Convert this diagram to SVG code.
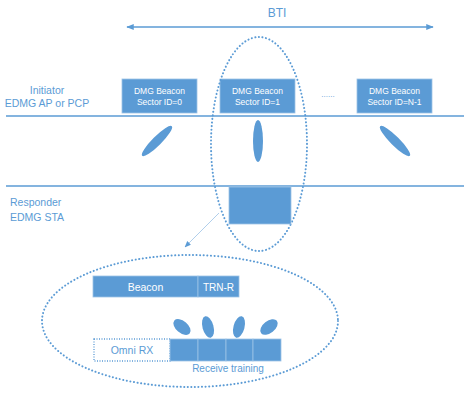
<svg xmlns="http://www.w3.org/2000/svg" width="464" height="393" viewBox="0 0 464 393">
<defs>
<style>
.t{font-family:"Liberation Sans",Arial,sans-serif;fill:#5b9bd5}
.w{font-family:"Liberation Sans",Arial,sans-serif;fill:#ffffff}
.box{fill:#5b9bd5;stroke:#9dc3e6;stroke-width:0.8}
.lobe{fill:#5b9bd5}
.dot{fill:none;stroke:#5b9bd5;stroke-width:2;stroke-dasharray:0.1 3.5;stroke-linecap:round}
.ln{stroke:#5b9bd5;stroke-width:1.5;fill:none}
</style>
<marker id="ah" viewBox="0 0 10 10" refX="9" refY="5" markerWidth="5" markerHeight="5" orient="auto-start-reverse">
<path d="M0,1 L10,5 L0,9 Z" fill="#5b9bd5"/>
</marker>
<marker id="ah2" viewBox="0 0 10 10" refX="9" refY="5" markerWidth="8" markerHeight="8" orient="auto">
<path d="M0,1 L10,5 L0,9 Z" fill="#5b9bd5"/>
</marker>
</defs>
<rect width="464" height="393" fill="#ffffff"/>

<g id="bti">
<text class="t" x="277" y="17" font-size="12" text-anchor="middle">BTI</text>
</g>

<g id="connectors">
<line class="ln" x1="127" y1="27" x2="433" y2="27" marker-start="url(#ah)" marker-end="url(#ah)"/>
<line x1="6" y1="116" x2="464" y2="116" stroke="#5b9bd5" stroke-width="1.5"/>
<line x1="6" y1="186" x2="464" y2="186" stroke="#5b9bd5" stroke-width="1.5"/>
<line x1="219" y1="213" x2="185" y2="247" stroke="#9dc3e6" stroke-width="0.8" marker-end="url(#ah2)"/>
</g>

<g id="initiator">
<text class="t" x="47" y="94" font-size="10.5" text-anchor="middle">Initiator</text>
<text class="t" x="47" y="107" font-size="10.5" text-anchor="middle">EDMG AP or PCP</text>
</g>

<g id="beacon0">
<rect class="box" x="122" y="79" width="75" height="34"/>
<text class="w" x="159.5" y="94" font-size="8.5" text-anchor="middle">DMG Beacon</text>
<text class="w" x="159.5" y="105" font-size="8.5" text-anchor="middle">Sector ID=0</text>
</g>
<g id="beacon1">
<rect class="box" x="220" y="79" width="75" height="34"/>
<text class="w" x="257.5" y="94" font-size="8.5" text-anchor="middle">DMG Beacon</text>
<text class="w" x="257.5" y="105" font-size="8.5" text-anchor="middle">Sector ID=1</text>
</g>
<g id="dots">
<text class="t" x="328" y="97" font-size="8" text-anchor="middle">......</text>
</g>
<g id="beaconN">
<rect class="box" x="357" y="79" width="75" height="34"/>
<text class="w" x="394.5" y="94" font-size="8.5" text-anchor="middle">DMG Beacon</text>
<text class="w" x="394.5" y="105" font-size="8.5" text-anchor="middle">Sector ID=N-1</text>
</g>

<g id="lobes">
<ellipse class="lobe" cx="157" cy="141" rx="21" ry="4.5" transform="rotate(-45 157 141)"/>
<ellipse class="lobe" cx="258" cy="141" rx="5" ry="21"/>
<ellipse class="lobe" cx="395" cy="141" rx="21" ry="4.5" transform="rotate(45 395 141)"/>
</g>

<g id="selection">
<ellipse class="dot" cx="259" cy="144" rx="48" ry="107"/>
</g>

<g id="responder">
<text class="t" x="10" y="206" font-size="10.5">Responder</text>
<text class="t" x="10" y="221" font-size="10.5">EDMG STA</text>
</g>
<g id="responder-box">
<rect class="box" x="229" y="187" width="62" height="37"/>
</g>

<g id="detail">
<ellipse class="dot" cx="190" cy="321" rx="148" ry="66"/>
</g>

<g id="beacon-frame">
<rect class="box" x="93" y="276" width="105" height="21"/>
<rect class="box" x="198" y="276" width="41" height="21"/>
<text class="w" x="145.5" y="290.5" font-size="10.5" text-anchor="middle">Beacon</text>
<text class="w" x="218.5" y="290.5" font-size="10" text-anchor="middle">TRN-R</text>
</g>

<g id="omni">
<rect x="94" y="339" width="76" height="22" fill="none" stroke="#5b9bd5" stroke-width="1.3" stroke-dasharray="1 1.5"/>
<text class="t" x="132" y="354" font-size="10.5" text-anchor="middle">Omni RX</text>
</g>

<g id="training">
<rect class="box" x="170" y="339" width="28" height="22"/>
<rect class="box" x="198" y="339" width="28" height="22"/>
<rect class="box" x="226" y="339" width="27" height="22"/>
<rect class="box" x="253" y="339" width="28" height="22"/>
<text class="t" x="228" y="372" font-size="10" text-anchor="middle">Receive training</text>
</g>

<g id="rx-lobes">
<ellipse class="lobe" cx="182" cy="327" rx="10" ry="6" transform="rotate(40 182 327)"/>
<ellipse class="lobe" cx="208" cy="327" rx="5.5" ry="11" transform="rotate(-15 208 327)"/>
<ellipse class="lobe" cx="239" cy="327" rx="5.5" ry="11" transform="rotate(15 239 327)"/>
<ellipse class="lobe" cx="269" cy="327" rx="10" ry="6" transform="rotate(-38 269 327)"/>
</g>
</svg>
